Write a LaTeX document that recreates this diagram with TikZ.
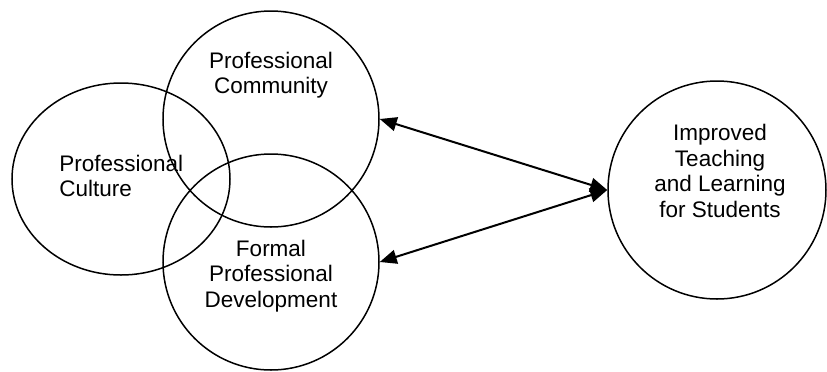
\documentclass[tikz,border=0pt]{standalone}
\usepackage{fontspec}
\setmainfont{Liberation Sans}
\usepackage{tikz}
\usetikzlibrary{shapes.geometric,arrows.meta}
\tikzset{>={Triangle[length=8.5pt,width=7pt]}}
\tikzset{
  circ/.style={draw,circle,line width=0.75pt,inner sep=0pt,minimum size=108pt},
  ell/.style={draw,ellipse,line width=0.75pt,inner sep=0pt,minimum width=109pt,minimum height=96pt},
  words/.style={inner sep=0pt,font=\fontsize{11.25}{12.75}\selectfont},
  link/.style={<->,line width=1pt}
}

\begin{document}
\begin{tikzpicture}[x=0.5pt,y=-0.5pt]
    \useasboundingbox (0,0) rectangle (827,371);
    \node[ell] (cult) at (121,179) {};
    \node[circ] (comm) at (271,119) {};
    \node[circ] (form) at (271,262) {};
    \node[circ,minimum size=109pt] (impr) at (717,190) {};
    \node[words,align=left,anchor=west] (culttext) at (59,176) {Professional\\Culture};
    \node[words,align=center] (commtext) at (271,75) {Professional\\Community};
    \node[words,align=center] (formtext) at (271,276) {Formal\\Professional\\Development};
    \node[words,align=center] (imprtext) at (720,171) {Improved\\Teaching\\and Learning\\for Students};
    \draw[link] (comm.east) -- (impr.west);
    \draw[link] (form.east) -- (impr.west);
  \end{tikzpicture}
\end{document}
